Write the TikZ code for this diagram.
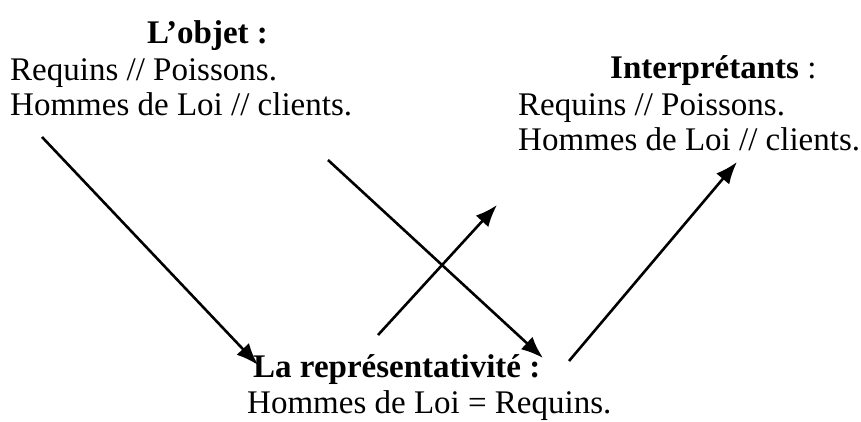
\documentclass[tikz,border=0pt]{standalone}
\usepackage{fontspec}
\setmainfont{Liberation Serif}
\usetikzlibrary{arrows.meta}
\begin{document}
\begin{tikzpicture}[x=1pt,y=-1pt,
  txt/.style={anchor=base west,inner sep=0pt,font=\fontsize{33}{38}\selectfont},
  arr/.style={line width=2.6pt,-{Latex[length=22pt,width=17pt]}}]
\useasboundingbox (0,0) rectangle (861,421);
% left block
\node[txt] (objT) at (147,43) {\textbf{L’objet :}};
\node[txt] (objA) at (10,80) {Requins // Poissons.};
\node[txt] (objB) at (10,115) {Hommes de Loi // clients.};
% right block
\node[txt] (intT) at (610,78) {\textbf{Interprétants} :};
\node[txt] (intA) at (518,115) {Requins // Poissons.};
\node[txt] (intB) at (518,150) {Hommes de Loi // clients.};
% bottom block
\node[txt] (repT) at (253,377) {\textbf{La représentativité :}};
\node[txt] (repA) at (247,413) {Hommes de Loi = Requins.};
% connector ends
\coordinate (a1s) at (42,137);  \coordinate (a1e) at (258,365);
\coordinate (a2s) at (328,160); \coordinate (a2e) at (543,358);
\coordinate (a3s) at (378,335); \coordinate (a3e) at (497,205);
\coordinate (a4s) at (569,361); \coordinate (a4e) at (737,162);
\draw[arr] (a1s) -- (a1e);
\draw[arr] (a2s) -- (a2e);
\draw[arr] (a3s) -- (a3e);
\draw[arr] (a4s) -- (a4e);
\end{tikzpicture}
\end{document}
